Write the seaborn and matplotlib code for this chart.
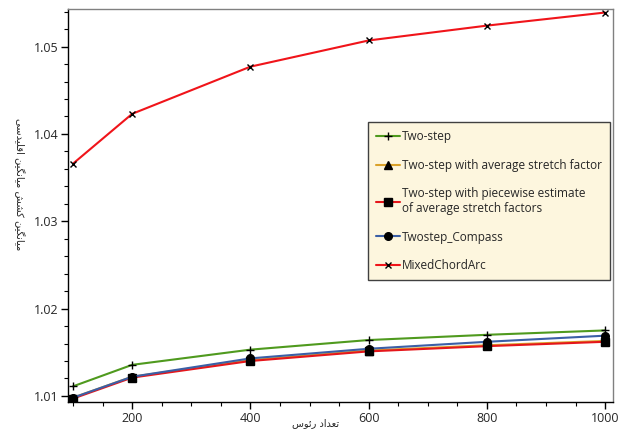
import matplotlib
matplotlib.use("Agg")
import matplotlib.pyplot as plt
import seaborn as sns
import pandas as pd
from matplotlib.ticker import MultipleLocator

vertices = [100, 200, 400, 600, 800, 1000]
two_step = [1.0111, 1.01356, 1.0153, 1.0164, 1.0170, 1.0175]
two_step_avg = [1.0098, 1.0122, 1.0141, 1.0152, 1.0158, 1.0163]
two_step_piecewise = [1.0097, 1.0121, 1.0140, 1.0151, 1.0157, 1.0162]
twostep_compass = [1.0098, 1.0122, 1.0143, 1.0154, 1.0162, 1.0169]
mixed_chord_arc = [1.0366, 1.0423, 1.0477, 1.0507, 1.0524, 1.0539]

series_names = ["Two-step", "Two-step with average stretch factor",
                "Two-step with piecewise estimate\nof average stretch factors",
                "Twostep_Compass", "MixedChordArc"]
series_values = [two_step, two_step_avg, two_step_piecewise, twostep_compass, mixed_chord_arc]
colors = ["#4f9a1e", "#dba22a", "#e5161b", "#3b5fa6", "#f0141a"]
markers = ["+", "^", "s", "o", "x"]
msizes = [6, 5.5, 5.5, 5.5, 5]

# Persian labels in presentation forms, visual order
xlabel_text = "\uFEB1\uFEEE\uFE8B\uFEAD \uFEA9\uFE8D\uFEAA\uFECC\uFE97"  # تعداد رئوس
w_mianghin = "\uFEE6\uFEF4\uFB95\uFEE7\uFE8E\uFEF4\uFEE3"
w_keshesh = "\uFEB6\uFEB8\uFB90"
w_oghlidosi = "\uFEF0\uFEB3\uFEAA\uFEF4\uFEE0\uFED7\uFE8D"
ylabel_text = " ".join([w_oghlidosi, w_mianghin, w_keshesh, w_mianghin])

sns.set_theme(style="white")
plt.rcParams["font.family"] = ["Open Sans", "DejaVu Sans"]

fig = plt.figure(figsize=(6.24, 4.30), dpi=100)
ax = fig.add_axes([0.109, 0.065, 0.873, 0.914])

for name, vals, c, m, ms in zip(series_names, series_values, colors, markers, msizes):
    df = pd.DataFrame({"x": vertices, "y": vals})
    sns.lineplot(data=df, x="x", y="y", ax=ax, color=c, linewidth=1.5,
                 marker=m, markersize=ms, markerfacecolor="black",
                 markeredgecolor="black", markeredgewidth=1.0, label=name)

ax.set_xlim(91.5, 1013)
ax.set_ylim(1.0093, 1.0543)
ax.xaxis.set_major_locator(MultipleLocator(200))
ax.xaxis.set_minor_locator(MultipleLocator(50))
ax.yaxis.set_major_locator(MultipleLocator(0.01))
ax.yaxis.set_minor_locator(MultipleLocator(0.002))
ax.yaxis.set_major_formatter(matplotlib.ticker.FormatStrFormatter("%.2f"))
ax.tick_params(axis="both", which="major", direction="out", length=5, width=1,
               color="black", labelsize=9, bottom=True, left=True, pad=2)
ax.tick_params(axis="both", which="minor", direction="out", length=3, width=0.8,
               color="black", bottom=True, left=True)
ax.spines["left"].set_color("black")
ax.spines["bottom"].set_color("black")
ax.spines["top"].set_color("#808080")
ax.spines["right"].set_color("#808080")
for s in ax.spines.values():
    s.set_linewidth(1.0)

ax.set_xlabel(xlabel_text, fontsize=7, family=["DejaVu Sans"], labelpad=1)
ax.xaxis.set_label_coords(0.455, -0.04)
ax.set_ylabel(ylabel_text, fontsize=7.2, family=["DejaVu Sans"], rotation=270)
ax.yaxis.set_label_coords(-0.1, 0.555)

leg = ax.legend(loc="upper left", bbox_to_anchor=(0.55, 0.712),
                frameon=True, fancybox=False, fontsize=8.5, labelspacing=1.3,
                handlelength=2.0, handletextpad=0.2, borderpad=0.7,
                borderaxespad=0)
leg.get_frame().set_facecolor("#fdf6de")
leg.get_frame().set_edgecolor("#404040")
leg.get_frame().set_linewidth(1.0)
leg.get_frame().set_alpha(1)

fig.savefig("out.png", dpi=100)
